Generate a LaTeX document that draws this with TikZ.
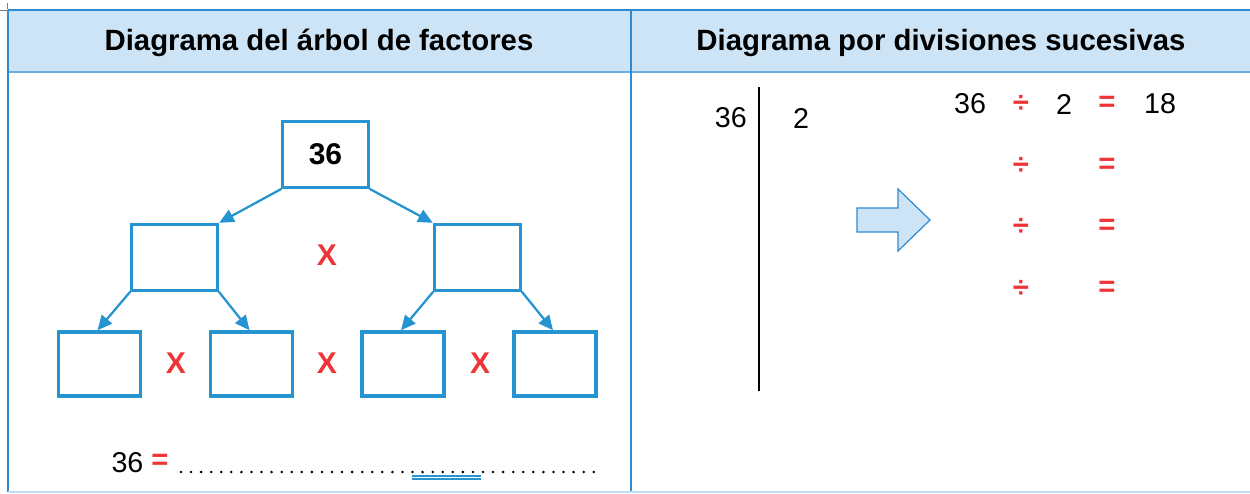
\documentclass[tikz,border=0pt]{standalone}
\usepackage{fontspec}
\setmainfont{Liberation Sans}
\usetikzlibrary{arrows.meta}
\definecolor{treeblue}{HTML}{2594D0}
\definecolor{frameblue}{HTML}{2E8AD2}
\definecolor{headfill}{HTML}{CCE4F6}
\definecolor{lightline}{HTML}{BDE0F7}
\definecolor{redsym}{HTML}{EE3437}
\tikzset{
  bigbox/.style={draw=treeblue, line width=2.6pt, minimum width=64.5pt, minimum height=49.5pt, inner sep=0pt},
  smallbox/.style={draw=treeblue, line width=2.6pt, minimum width=61.5pt, minimum height=48pt, inner sep=0pt},
  treearrow/.style={draw=treeblue, line width=1.7pt, -{Triangle[length=11pt,width=10pt]}, shorten <=-0.5pt},
  redx/.style={text=redsym, font=\fontsize{22.5}{26}\selectfont\bfseries, inner sep=0pt},
  redop/.style={text=redsym, font=\fontsize{22}{26}\selectfont\bfseries, inner sep=0pt},
  num/.style={font=\fontsize{21.5}{25}\selectfont, inner sep=0pt},
  header/.style={font=\fontsize{22}{26}\selectfont\bfseries, inner sep=0pt},
}
\begin{document}
\begin{tikzpicture}[x=0.75pt, y=-0.75pt]
\useasboundingbox (0,0) rectangle (1250,493);
% crop mark
\draw[gray, line width=0.6pt] (0,10) -- (7,10) (7,3) -- (7,9);
% header
\fill[headfill] (8,10) rectangle (1250,72);
\draw[frameblue, line width=1.2pt] (8,10) -- (1250,10);
\draw[frameblue!70, line width=1.2pt] (8,72) -- (1250,72);
\draw[frameblue, line width=1.2pt] (8,10) -- (8,492);
\draw[frameblue, line width=1.2pt] (631,10) -- (631,492);
\draw[lightline, line width=1.5pt] (8,492) -- (1250,492);
\node[header] (h1) at (319,43) {Diagrama del árbol de factores};
\node[header] (h2) at (941,43) {Diagrama por divisiones sucesivas};
% tree
\node[bigbox, font=\fontsize{22.5}{26}\selectfont\bfseries] (top) at (325.5,154.5) {36};
\node[bigbox] (ml) at (174.5,257.5) {};
\node[bigbox] (mr) at (477.5,257.5) {};
\node[smallbox] (b1) at (99.5,364) {};
\node[smallbox] (b2) at (251.5,364) {};
\node[smallbox] (b3) at (403,364) {};
\node[smallbox] (b4) at (555,364) {};
\draw[treearrow] (top.south west) -- (ml.north east);
\draw[treearrow] (top.south east) -- (mr.north west);
\draw[treearrow] (ml.south west) -- ([xshift=-1.5pt]b1.north);
\draw[treearrow] (ml.south east) -- ([xshift=-1.5pt]b2.north);
\draw[treearrow] (mr.south west) -- ([xshift=-1.5pt]b3.north);
\draw[treearrow] (mr.south east) -- ([xshift=-1.5pt]b4.north);
\node[redx] (x0) at (327,255) {X};
\node[redx] (x1) at (176,363) {X};
\node[redx] (x2) at (327,363) {X};
\node[redx] (x3) at (480,363) {X};
% bottom equation
\node[num] (e36) at (127.5,463) {36};
\node[redop] (eeq) at (160,462) {=};
\coordinate (dotA) at (181,472);
\coordinate (dotB) at (596,472);
\draw[black, line width=2.1pt, line cap=round, dash pattern=on 0pt off 7.55pt] (dotA) -- (dotB);
\draw[treeblue, line width=0.8pt] (412,476) -- (481,476) (412,479) -- (481,479);
% divisions
\draw[black, line width=1pt] (759,87) -- (759,391);
\node[num, anchor=east] (d36) at (747,118) {36};
\node[num] (d2) at (801,118) {2};
\draw[frameblue, fill=headfill, line width=0.9pt] (857,208) -- (898,208) -- (898,189) -- (930,220) -- (898,251) -- (898,232) -- (857,232) -- cycle;
\node[num] (r36) at (970,104) {36};
\node[redop] (r1d) at (1021,104) {÷};
\node[num] (r2) at (1064,104) {2};
\node[redop] (r1e) at (1107,104) {=};
\node[num] (r18) at (1160,104) {18};
\node[redop] (r2d) at (1021,166) {÷};
\node[redop] (r2e) at (1107,166) {=};
\node[redop] (r3d) at (1021,227) {÷};
\node[redop] (r3e) at (1107,227) {=};
\node[redop] (r4d) at (1021,289) {÷};
\node[redop] (r4e) at (1107,289) {=};
\end{tikzpicture}
\end{document}
